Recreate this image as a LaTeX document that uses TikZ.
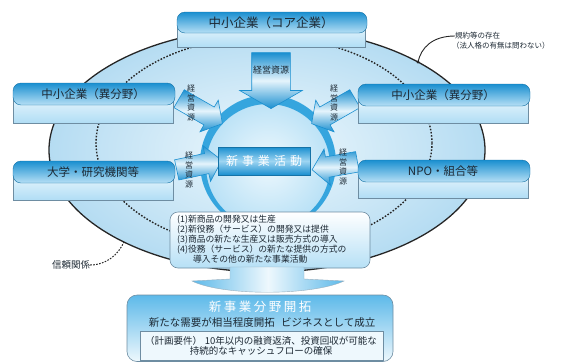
\documentclass[tikz,border=0pt]{standalone}
\usepackage{fontspec}
\setmainfont{Noto Sans CJK JP}
\usetikzlibrary{shapes.arrows}
\definecolor{ringblue}{HTML}{35A5DE}
\definecolor{deepblue}{HTML}{1A8FD0}
\definecolor{midblue}{HTML}{5DB9E9}
\definecolor{paleblue}{HTML}{D4EDFA}
\definecolor{ghostblue}{HTML}{EEF8FD}
\definecolor{ellblue}{HTML}{B5DCF2}
\definecolor{edgegray}{HTML}{6E8DA2}
\definecolor{inkdark}{HTML}{1C2833}
\tikzset{
  lowerpart/.style={draw=edgegray, line width=0.5pt, top color=ghostblue, bottom color=paleblue!70!midblue},
  pillpart/.style={draw=deepblue!80!black, line width=0.4pt, rounded corners=8pt, top color=deepblue, bottom color=midblue!45!white},
  boxtext/.style={font=\fontsize{11.5}{12}\selectfont, text=inkdark, inner sep=0pt},
  blockarrow/.style={single arrow, draw=deepblue, line width=0.6pt, inner sep=0pt, top color=deepblue, bottom color=deepblue, middle color=paleblue!60!white},
  vlabel/.style={font=\fontsize{8}{9.5}\selectfont, text=inkdark, align=center, inner sep=0pt},
  smalltext/.style={font=\fontsize{7.5}{9}\selectfont, text=inkdark, inner sep=0pt, align=left},
}
\newcommand\orgbox[6]{%
  \path[lowerpart] (#2,#3+11) rectangle (#4,#5);
  \path[pillpart] (#2,#3) rectangle ({#4+2},{#3+22});
  \node[boxtext] (#1) at ({(#2+#4)/2},{#3+11}) {#6};
}
\begin{document}
\begin{tikzpicture}[x=1pt,y=-1pt]
\useasboundingbox (0,0) rectangle (580,362);
% outer ellipse
\path[inner color=ghostblue, outer color=ellblue, draw=black!85, line width=1.3pt] (267,150) ellipse [x radius=218, y radius=122];
% inner dotted ellipse
\draw[black!85, line width=1.4pt, dash pattern=on 1.6pt off 1.6pt] (264,143) ellipse [x radius=168, y radius=106];
% central circle
\path[inner color=ghostblue, outer color=paleblue!75!midblue] (268,163) circle (68);
\fill[ringblue, even odd rule] (268,163) circle (68) (268,166) circle (62);
% leaders
\node[smalltext, anchor=west] (kiyaku) at (455,36) {規約等の存在};
\node[smalltext, anchor=west] (kiyaku2) at (452,46) {（法人格の有無は問わない）};
\coordinate (kiyakuEnd) at (418,62);
\draw[black!85, line width=0.9pt] (kiyaku.west) .. controls (432,36) and (421,48) .. (kiyakuEnd);
\fill[black!85] (kiyakuEnd) circle (1.6);
\node[font=\fontsize{9.5}{10}\selectfont, text=inkdark, inner sep=0pt] (shinrai) at (71,265) {信頼関係};
\coordinate (shinraiEnd) at (124,242);
\draw[black!85, line width=1pt, dash pattern=on 1.6pt off 1.4pt] (shinrai.east) .. controls (106,265) and (118,255) .. (shinraiEnd);
% side arrows
\node[blockarrow, minimum height=50pt, single arrow head extend=8pt, single arrow tip angle=100, rotate=-30] (aUL) at (197,109) {\rule{0pt}{20pt}};
\node[blockarrow, minimum height=46pt, single arrow head extend=8pt, single arrow tip angle=100, rotate=12] (aLL) at (195,166) {\rule{0pt}{20pt}};
\node[blockarrow, minimum height=50pt, single arrow head extend=8pt, single arrow tip angle=100, rotate=210] (aUR) at (337,109) {\rule{0pt}{20pt}};
\node[blockarrow, minimum height=46pt, single arrow head extend=8pt, single arrow tip angle=100, rotate=190] (aLR) at (339,165) {\rule{0pt}{20pt}};
% boxes
\orgbox{cl1}{13}{83}{173}{123}{中小企業（異分野）}
\orgbox{cl2}{13}{161}{173}{200}{大学・研究機関等}
\orgbox{cr1}{358}{84}{528}{123}{中小企業（異分野）}
\orgbox{cr2}{358}{160}{528}{198}{NPO・組合等}
\path[lowerpart] (177,23) rectangle (365,47);
\path[pillpart] (177,12) rectangle (367,33);
\node[boxtext, font=\fontsize{12.5}{13}\selectfont] (ct) at (271,22.5) {中小企業（コア企業）};
% top arrow
\node[blockarrow, minimum height=56pt, single arrow head extend=12pt, single arrow tip angle=120, rotate=-90] (aTop) at (271,75) {\rule{0pt}{38pt}};
\node[font=\fontsize{9}{10}\selectfont, text=inkdark, inner sep=0pt] (lTop) at (271,70) {経営資源};
% vertical labels
\node[vlabel] (lUL) at (191,103) {経\\営\\資\\源};
\node[vlabel] (lLL) at (189,170) {経\\営\\資\\源};
\node[vlabel] (lUR) at (334,103) {経\\営\\資\\源};
\node[vlabel] (lLR) at (343,167) {経\\営\\資\\源};
% core banner
\path[top color=deepblue, bottom color=deepblue, middle color=midblue!60!white, draw=deepblue!80!black, line width=0.4pt] (218,147) rectangle (310,175);
\node[font=\fontsize{12}{12}\selectfont, text=white, inner sep=0pt] (core) at (264,161) {新\kern4pt 事\kern4pt 業\kern4pt 活\kern4pt 動};
% info box
\path[draw=edgegray, line width=0.6pt, rounded corners=8pt, top color=white, bottom color=paleblue!75!midblue] (170,212) rectangle (370,268);
\node[anchor=west, font=\fontsize{8.8}{10}\selectfont, text=inkdark, align=left, inner sep=0pt] (acts) at (177,239.5) {(1)新商品の開発又は生産\\(2)新役務（サービス）の開発又は提供\\(3)商品の新たな生産又は販売方式の導入\\(4)役務（サービス）の新たな提供の方式の\\\hspace{1.8em}導入その他の新たな事業活動};
% bottom arrow
\path[left color=midblue, right color=midblue, middle color=ghostblue, draw=edgegray!70, line width=0.4pt] (230,267) -- (230,279) -- (192,281) .. controls (222,296) and (312,296) .. (344,281) -- (304,279) -- (304,267) -- cycle;
% bottom box
\path[draw=edgegray, line width=0.6pt, rounded corners=10pt, top color=midblue, bottom color=ghostblue] (127,295) rectangle (393,361.5);
\node[font=\fontsize{12.5}{13}\selectfont, text=white, inner sep=0pt] (newfield) at (260,307) {新\kern2.5pt 事\kern2.5pt 業\kern2.5pt 分\kern2.5pt 野\kern2.5pt 開\kern2.5pt 拓};
\node[font=\fontsize{10.5}{11}\selectfont, text=inkdark, inner sep=0pt] (demand) at (262,323) {新たな需要が相当程度開拓\hspace{0.6em}ビジネスとして成立};
\path[draw=edgegray, line width=0.5pt, fill=ghostblue] (140,331) rectangle (383,360);
\node[font=\fontsize{9.5}{10.5}\selectfont, text=inkdark, align=center, inner sep=0pt] (plan) at (261,346) {（計画要件）\hspace{0.3em}10年以内の融資返済、投資回収が可能な\\持続的なキャッシュフローの確保};
\end{tikzpicture}
\end{document}
